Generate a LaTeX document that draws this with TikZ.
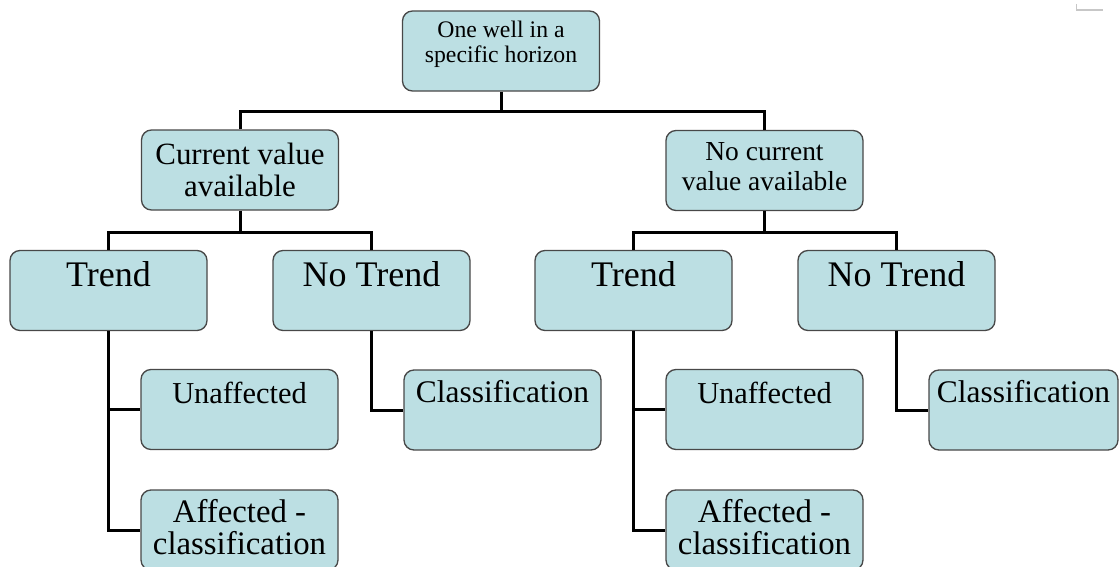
\documentclass[tikz,border=0pt]{standalone}
\usepackage{fontspec}
\setmainfont{Liberation Serif}
\usepackage{xcolor}
\usepackage{tikz}
\usetikzlibrary{positioning}

\definecolor{boxfill}{RGB}{188,223,227}
\definecolor{boxline}{RGB}{72,72,72}

\tikzset{
	box/.style={draw=boxline, fill=boxfill, line width=1pt, rounded corners=7.5pt,
		minimum width=147.75pt, minimum height=60pt, inner sep=0pt},
	link/.style={line width=2.25pt},
	txt/.style={inner sep=0pt, align=center}
}

\begin{document}
\begin{tikzpicture}[x=0.75pt, y=-0.75pt]
	\useasboundingbox (0,0) rectangle (1120,567);
	\clip (0,0) rectangle (1120,567);

	% boxes
	\node[box] (top) at (501,51) {};
	\node[box] (cva) at (240,170) {};
	\node[box] (ncv) at (764.5,170.5) {};
	\node[box] (trL) at (108.5,290.5) {};
	\node[box] (ntL) at (371.5,290.5) {};
	\node[box] (trR) at (633.5,290.5) {};
	\node[box] (ntR) at (896.5,290.5) {};
	\node[box] (unL) at (239.5,409.5) {};
	\node[box] (afL) at (239.5,530) {};
	\node[box] (clL) at (502.5,410) {};
	\node[box] (unR) at (764.5,409.5) {};
	\node[box] (afR) at (764.5,530) {};
	\node[box, minimum width=141.75pt] (clR) at (1023.5,410) {};

	% texts
	\node[txt, below=8.1pt of top.north, font={\fontsize{17.8pt}{18.75pt}\selectfont}] (topT) {One well in a\\specific horizon};
	\node[txt, below=10pt of cva.north, font={\fontsize{23.2pt}{24pt}\selectfont}] (cvaT) {Current value\\available};
	\node[txt, below=9pt of ncv.north, font={\fontsize{20.6pt}{22.5pt}\selectfont}] (ncvT) {No current\\value available};
	\foreach \n/\t in {trL/Trend, ntL/No Trend, trR/Trend, ntR/No Trend}
		\node[txt, below=8.5pt of \n.north, font={\fontsize{27pt}{30pt}\selectfont}] (\n T) {\t};
	\foreach \n in {unL, unR}
		\node[txt, below=9.4pt of \n.north, font={\fontsize{22.8pt}{24pt}\selectfont}] (\n T) {Unaffected};
	\foreach \n in {afL, afR}
		\node[txt, below=7.2pt of \n.north, font={\fontsize{24.6pt}{24pt}\selectfont}] (\n T) {Affected -\\classification};
	\foreach \n in {clL, clR}
		\node[txt, below=7.8pt of \n.north, font={\fontsize{23.6pt}{26pt}\selectfont}] (\n T) {Classification};

	% connectors
	\coordinate (j0) at (501,111);
	\coordinate (j1) at (240,232);
	\coordinate (j2) at (764.5,232);

	\begin{scope}[link]
		\draw (top.south) -- (j0);
		\draw (cva.north) |- (j0) -| (ncv.north);
		\draw (cva.south) -- (j1);
		\draw (trL.north) |- (j1) -| (ntL.north);
		\draw (ncv.south) -- (j2);
		\draw (trR.north) |- (j2) -| (ntR.north);

		\draw (trL.south) |- (afL.west);
		\draw (trL.south |- unL.west) -- (unL.west);
		\draw (ntL.south) |- (clL.west);
		\draw (trR.south) |- (afR.west);
		\draw (trR.south |- unR.west) -- (unR.west);
		\draw (ntR.south) |- (clR.west);
	\end{scope}

	% corner mark
	\draw[black!22, line width=0.9pt] (1076.5,4) -- (1076.5,10) -- (1103,10);
\end{tikzpicture}
\end{document}
